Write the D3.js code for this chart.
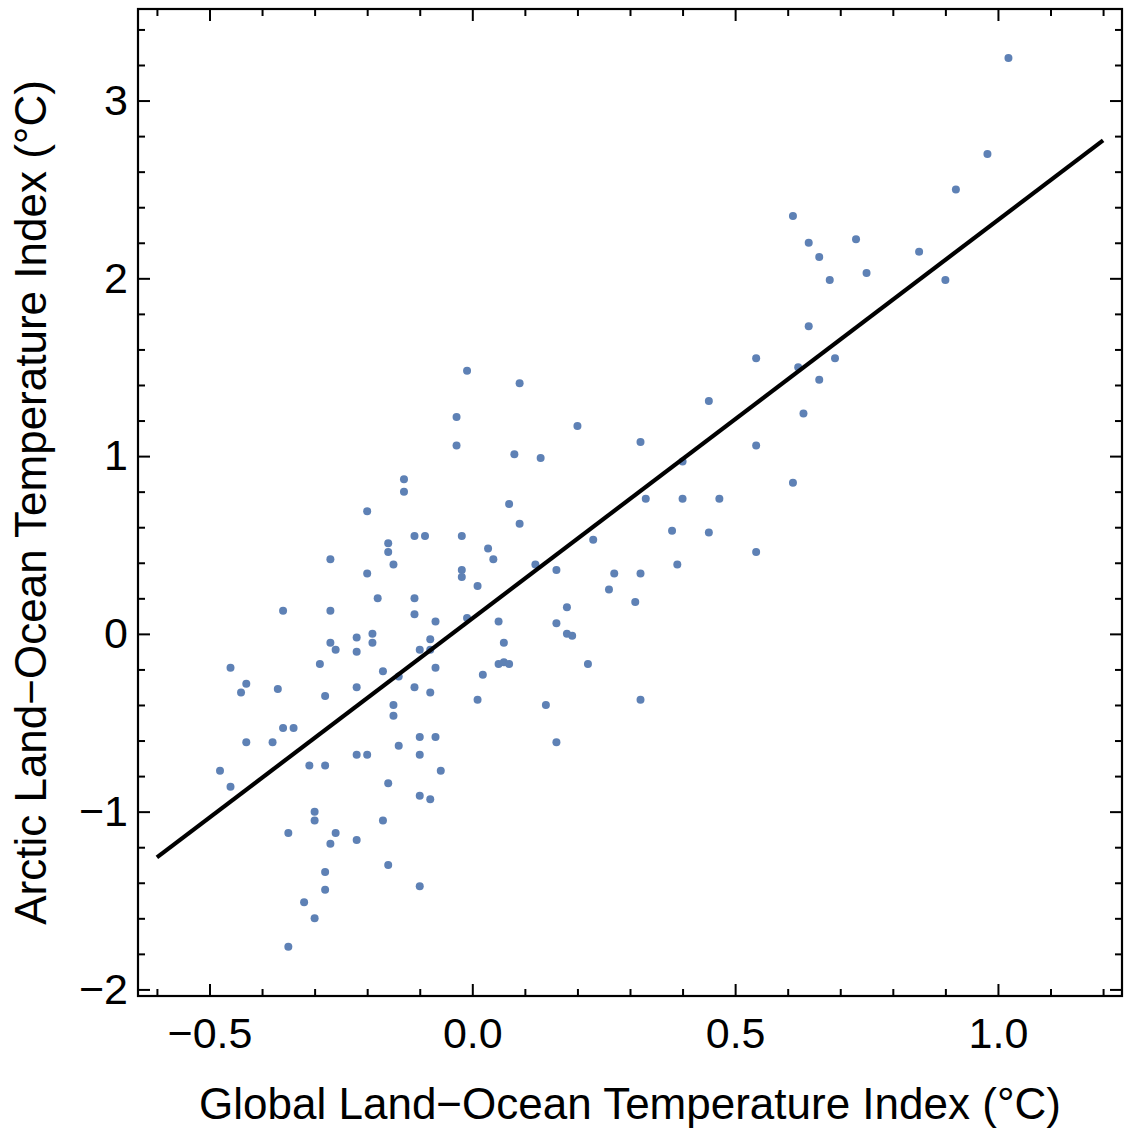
<!DOCTYPE html>
<html lang="en">
	<head>
		<meta charset="utf-8">
		<title>Arctic vs Global Temperature Index</title>
		<script type="text/javascript" src="https://d3js.org/d3.v7.min.js"></script>
		<style type="text/css">
		body{
                margin:0;
                background:#ffffff;
                }
		.tick text{
                font-family:"Liberation Sans",Arial,Helvetica,sans-serif;
                font-size:43px;
                fill:#000000;
                }
		.axis-title{
                font-family:"Liberation Sans",Arial,Helvetica,sans-serif;
                font-size:44px;
                fill:#000000;
                }
		</style>
	</head>
	<body>
        <div id="chart"></div>

	<script type="text/javascript">

    //global land-ocean index (x) and arctic index (y), one pair per year
    var globalIdx = [1.02,0.98,0.92,0.61,0.73,0.64,0.85,0.66,0.75,0.68,0.90,0.64,0.54,0.69,0.62,0.66,
        0.45,0.63,0.54,0.61,0.47,0.20,0.32,0.40,0.33,0.40,0.23,0.38,0.45,0.54,0.39,
        -0.01,0.09,-0.03,-0.03,0.08,0.13,0.07,0.09,-0.02,0.03,0.04,0.12,-0.02,-0.02,0.16,0.27,0.32,
        0.01,0.26,0.31,-0.01,0.05,0.18,0.16,0.18,0.19,0.06,0.05,0.06,0.07,0.22,0.02,0.01,0.14,0.32,0.16,-0.06,
        -0.13,-0.13,-0.20,-0.16,-0.16,-0.11,-0.09,-0.27,-0.15,-0.20,-0.18,-0.11,-0.11,-0.07,-0.36,-0.27,
        -0.22,-0.19,-0.19,-0.27,-0.26,-0.22,-0.08,-0.10,-0.08,-0.29,-0.17,-0.14,-0.07,-0.46,-0.43,-0.44,
        -0.37,-0.28,-0.22,-0.11,-0.08,-0.15,-0.15,-0.36,-0.34,-0.43,-0.38,-0.10,-0.07,-0.14,-0.22,-0.20,
        -0.10,-0.48,-0.46,-0.31,-0.28,-0.16,-0.10,-0.08,-0.30,-0.30,-0.35,-0.26,-0.27,-0.22,-0.17,-0.16,
        -0.10,-0.28,-0.28,-0.32,-0.30,-0.35]
    var arcticIdx = [3.24,2.70,2.50,2.35,2.22,2.20,2.15,2.12,2.03,1.99,1.99,1.73,1.55,1.55,1.50,1.43,
        1.31,1.24,1.06,0.85,0.76,1.17,1.08,0.97,0.76,0.76,0.53,0.58,0.57,0.46,0.39,
        1.48,1.41,1.22,1.06,1.01,0.99,0.73,0.62,0.55,0.48,0.42,0.39,0.36,0.32,0.36,0.34,0.34,
        0.27,0.25,0.18,0.09,0.07,0.15,0.06,0.00,-0.01,-0.05,-0.17,-0.16,-0.17,-0.17,-0.23,-0.37,-0.40,-0.37,-0.61,-0.77,
        0.87,0.80,0.69,0.51,0.46,0.55,0.55,0.42,0.39,0.34,0.20,0.20,0.11,0.07,0.13,0.13,
        -0.02,0.00,-0.05,-0.05,-0.09,-0.10,-0.03,-0.09,-0.09,-0.17,-0.21,-0.24,-0.19,-0.19,-0.28,-0.33,
        -0.31,-0.35,-0.30,-0.30,-0.33,-0.40,-0.46,-0.53,-0.53,-0.61,-0.61,-0.58,-0.58,-0.63,-0.68,-0.68,
        -0.68,-0.77,-0.86,-0.74,-0.74,-0.84,-0.91,-0.93,-1.00,-1.05,-1.12,-1.12,-1.18,-1.16,-1.05,-1.30,
        -1.42,-1.34,-1.44,-1.51,-1.60,-1.76]

    //least squares fit
    var fitIntercept = 0.087
    var fitSlope = 2.241
    var fitRange = [-0.6, 1.2]

    var xMajor = [-0.5, 0, 0.5, 1.0]
    var xMajorLabels = ["\u22120.5", "0.0", "0.5", "1.0"]
    var yMajor = [-2, -1, 0, 1, 2, 3]
    var yMajorLabels = ["\u22122", "\u22121", "0", "1", "2", "3"]

    var xTitle = "Global Land\u2212Ocean Temperature Index (\u00b0C)"
    var yTitle = "Arctic Land\u2212Ocean Temperature Index (\u00b0C)"

    drawScatter()

    function drawScatter(){

        var w = 1126
        var h = 1129
        var left = 138
        var right = 1122
        var top = 9
        var bottom = 996

        var svg = d3.select("#chart")
            .append("svg")
            .attr("width",w)
            .attr("height",h)

        var xScale = d3.scaleLinear()
            .domain([-0.636,1.236])
            .range([left,right])
        var yScale = d3.scaleLinear()
            .domain([-2.037,3.515])
            .range([bottom,top])

        //minor tick positions, every 0.1 on x and 0.2 on y
        var xMinor = d3.range(-6,13).map(function(d){return d/10})
            .filter(function(d){return Math.abs(d*2-Math.round(d*2))>1e-6})
        var yMinor = d3.range(-10,18).map(function(d){return d/5})
            .filter(function(d){return Math.abs(d-Math.round(d))>1e-6})

        function fmt(values,labels){
            return function(d){
                var i = values.findIndex(function(v){return Math.abs(v-d)<1e-9})
                return i<0 ? "" : labels[i]
            }
        }

        //frame ticks point inward on all four sides
        var axes = [
            {gen:d3.axisBottom, scale:xScale, pos:"translate(0,"+bottom+")", major:xMajor, minor:xMinor, labels:xMajorLabels, pad:21},
            {gen:d3.axisTop, scale:xScale, pos:"translate(0,"+top+")", major:xMajor, minor:xMinor, labels:null, pad:0},
            {gen:d3.axisLeft, scale:yScale, pos:"translate("+left+",0)", major:yMajor, minor:yMinor, labels:yMajorLabels, pad:10},
            {gen:d3.axisRight, scale:yScale, pos:"translate("+right+",0)", major:yMajor, minor:yMinor, labels:null, pad:0}
        ]

        axes.forEach(function(a){
            var major = a.gen(a.scale)
                .tickValues(a.major)
                .tickSizeInner(-12)
                .tickSizeOuter(0)
                .tickPadding(a.pad)
                .tickFormat(a.labels ? fmt(a.major,a.labels) : function(){return ""})
            var minor = a.gen(a.scale)
                .tickValues(a.minor)
                .tickSizeInner(-7)
                .tickSizeOuter(0)
                .tickFormat(function(){return ""})

            var g1 = svg.append("g").attr("class","axis").attr("transform",a.pos).call(major)
            var g2 = svg.append("g").attr("class","axis").attr("transform",a.pos).call(minor)
            g1.select(".domain").remove()
            g2.select(".domain").remove()
            g1.selectAll(".tick line").attr("stroke","#000").attr("stroke-width",2)
            g2.selectAll(".tick line").attr("stroke","#000").attr("stroke-width",2)
            g1.selectAll(".tick text").attr("font-family",null).attr("font-size",null)
        })

        //frame
        svg.append("rect")
            .attr("x",left)
            .attr("y",top)
            .attr("width",right-left)
            .attr("height",bottom-top)
            .attr("fill","none")
            .attr("stroke","#000")
            .attr("stroke-width",2.2)

        //points
        var data = globalIdx.map(function(g,i){return {x:g, y:arcticIdx[i]}})
        svg.selectAll("circle")
            .data(data)
            .enter()
            .append("circle")
            .attr("cx",function(d){return xScale(d.x)})
            .attr("cy",function(d){return yScale(d.y)})
            .attr("r",4)
            .style("fill","#5E81B5")

        //fitted line
        var line = d3.line()
            .x(function(d){return xScale(d)})
            .y(function(d){return yScale(fitIntercept+fitSlope*d)})
        svg.append("path")
            .datum(fitRange)
            .attr("d",line)
            .attr("fill","none")
            .attr("stroke","#000")
            .attr("stroke-width",4.2)

        //axis titles
        svg.append("text")
            .attr("class","axis-title")
            .attr("x",(left+right)/2)
            .attr("y",1119)
            .attr("text-anchor","middle")
            .text(xTitle)

        svg.append("text")
            .attr("class","axis-title")
            .attr("transform","translate(46,"+((top+bottom)/2)+") rotate(-90)")
            .attr("text-anchor","middle")
            .text(yTitle)
    }

	</script>
	</body>
</html>
